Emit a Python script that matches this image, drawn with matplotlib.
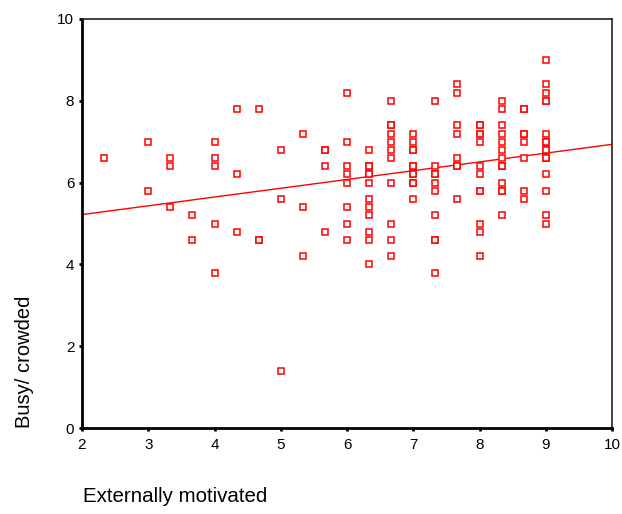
import numpy as np
import matplotlib
matplotlib.use("Agg")
import matplotlib.pyplot as plt

plt.rcParams['font.family'] = ['Liberation Sans', 'DejaVu Sans']

# Externally motivated (x) columns and Busy/crowded (y) values in each column
x_levels = [7/3, 3.0, 10/3, 11/3, 4.0, 13/3, 14/3, 5.0, 16/3, 17/3,
            6.0, 19/3, 20/3, 7.0, 22/3, 23/3, 8.0, 25/3, 26/3, 9.0]
y_by_level = [
    [6.6],
    [7.0, 5.8],
    [6.6, 6.4, 5.4],
    [5.2, 4.6],
    [7.0, 6.6, 6.4, 5.0, 3.8],
    [7.8, 6.2, 4.8],
    [7.8, 4.6, 4.6],
    [6.8, 5.6, 1.4],
    [7.2, 5.4, 4.2],
    [6.8, 6.8, 6.4, 4.8],
    [8.2, 7.0, 6.4, 6.2, 6.0, 5.4, 5.0, 4.6],
    [6.8, 6.4, 6.4, 6.2, 6.2, 6.0, 5.6, 5.4, 5.2, 4.8, 4.6, 4.0],
    [8.0, 7.4, 7.4, 7.2, 7.0, 6.8, 6.6, 6.0, 5.0, 4.6, 4.2],
    [7.2, 7.0, 6.8, 6.8, 6.4, 6.4, 6.2, 6.2, 6.0, 6.0, 5.6],
    [8.0, 6.4, 6.2, 6.2, 6.0, 5.8, 5.2, 4.6, 4.6, 3.8],
    [8.4, 8.2, 7.4, 7.2, 6.6, 6.4, 6.4, 5.6],
    [7.4, 7.4, 7.2, 7.2, 7.0, 6.4, 6.2, 5.8, 5.8, 5.0, 4.8, 4.2],
    [8.0, 7.8, 7.4, 7.2, 7.0, 6.8, 6.6, 6.4, 6.4, 6.0, 5.8, 5.8, 5.2],
    [7.8, 7.8, 7.2, 7.2, 7.0, 6.6, 5.8, 5.6],
    [9.0, 8.4, 8.2, 8.0, 8.0, 7.2, 7.0, 7.0, 6.8, 6.8, 6.6, 6.6, 6.2, 5.8, 5.2, 5.0],
]
x_ticks = [2, 3, 4, 5, 6, 7, 8, 9, 10]
y_ticks = [0, 2, 4, 6, 8, 10]
x_title = "Externally motivated"
y_title = "Busy/ crowded"

xs = np.concatenate([[xv] * len(ys) for xv, ys in zip(x_levels, y_by_level)])
ys = np.concatenate([np.array(v, dtype=float) for v in y_by_level])

W, H = 622, 514
fig = plt.figure(figsize=(W / 100, H / 100), dpi=100)
ax = fig.add_axes([82 / W, 1 - 428 / H, 530 / W, 409 / H])

red = '#ff0000'
ax.plot(xs, ys, linestyle='none', marker='s', markersize=4.6,
        markerfacecolor='white', markeredgecolor=red, markeredgewidth=1.1, zorder=3)

slope, intercept = np.polyfit(xs, ys, 1)
lx = np.array([x_ticks[0], x_ticks[-1]], dtype=float)
ax.plot(lx, intercept + slope * lx, color=red, linewidth=1.0, zorder=2)

ax.set_xlim(x_ticks[0], x_ticks[-1])
ax.set_ylim(y_ticks[0], y_ticks[-1])
ax.set_xticks(x_ticks)
ax.set_yticks(y_ticks)
ax.tick_params(axis='both', direction='out', length=2.5, width=2, color='black',
               labelsize=11, labelcolor='black')
ax.tick_params(axis='x', pad=5)
ax.tick_params(axis='y', pad=3)

for side in ['left', 'bottom']:
    ax.spines[side].set_linewidth(2)
    ax.spines[side].set_color('black')
for side in ['top', 'right']:
    ax.spines[side].set_linewidth(1.2)
    ax.spines[side].set_color('#222222')

fig.text(25 / W, 1 - 428 / H, y_title, rotation=90, ha='center', va='bottom', fontsize=14.5)
fig.text(83 / W, 1 - 497 / H, x_title, ha='left', va='center', fontsize=14.8)

fig.savefig('out.png', dpi=100, facecolor='white')
